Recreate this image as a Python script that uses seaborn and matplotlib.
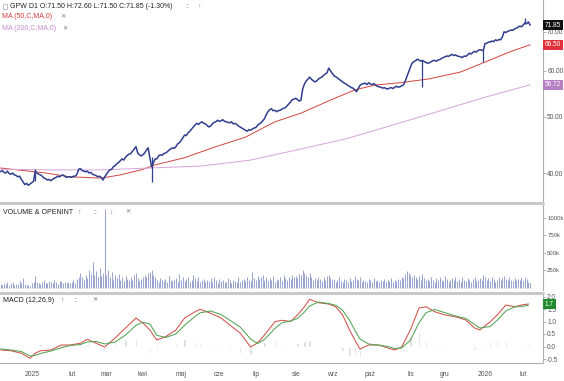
import numpy as np
import pandas as pd
import matplotlib
matplotlib.use("Agg")
import matplotlib.pyplot as plt
import seaborn as sns
from matplotlib.ticker import FixedLocator, NullLocator, FuncFormatter
from matplotlib.lines import Line2D
from matplotlib.patches import Rectangle

# ---------------- data ----------------
start_date = "2024-12-06"
close = [
    40.2, 40.4, 40.1, 40.0, 40.3, 39.9, 39.8, 40.0, 39.7, 39.6,
    39.4, 39.5, 39.0, 38.6, 38.2, 38.4, 38.1, 38.3, 38.5, 38.7,
    40.3, 40.0, 39.8, 39.7, 39.5, 39.2, 39.1, 38.9, 39.0, 38.8,
    39.0, 39.2, 39.3, 39.5, 39.4, 39.6, 39.7, 39.5, 39.3, 39.4,
    39.4, 39.3, 39.5, 39.5, 39.8, 40.6, 40.7, 40.4, 40.3, 40.2,
    40.3, 40.0, 40.1, 39.8, 39.7, 39.6, 39.4, 39.5, 39.3, 38.9,
    39.4, 39.8, 40.2, 40.5, 40.6, 41.0, 41.2, 41.5, 41.7, 42.0,
    42.3, 42.1, 42.6, 42.9, 43.1, 43.2, 43.6, 44.0, 44.4, 43.3,
    43.0, 42.8, 43.0, 43.3, 43.8, 44.2, 42.5, 41.0, 41.6, 42.3,
    42.3, 42.8, 43.0, 42.9, 43.2, 43.3, 43.5, 43.8, 44.0, 44.2,
    44.1, 44.4, 44.9, 45.1, 45.5, 46.0, 46.5, 46.4, 46.9, 47.2,
    47.6, 48.0, 48.4, 48.7, 48.5, 48.8, 49.0, 48.7, 48.6, 48.3,
    48.0, 48.2, 48.6, 48.9, 49.0, 49.3, 49.1, 49.2, 49.4, 49.1,
    49.0, 48.9, 48.8, 49.0, 48.6, 48.7, 48.5, 48.2, 48.0, 47.8,
    47.6, 47.4, 47.2, 47.5, 47.4, 47.6, 47.8, 47.9, 48.3, 48.6,
    48.8, 49.2, 49.6, 50.4, 51.0, 51.4, 51.6, 51.2, 51.3, 51.0,
    51.2, 51.3, 51.5, 51.7, 51.8, 52.2, 52.6, 53.0, 53.5, 53.6,
    53.8, 53.5, 53.2, 53.4, 55.8, 56.9, 57.6, 58.0, 58.5, 58.0,
    57.7, 57.4, 57.6, 58.0, 58.3, 58.5, 58.9, 59.2, 59.5, 60.6,
    60.0, 59.4, 58.8, 58.6, 58.3, 58.0, 57.7, 57.4, 57.1, 56.9,
    56.6, 56.4, 56.1, 56.0, 55.6, 55.2, 55.9, 56.6, 56.9, 57.0,
    57.1, 56.8, 57.2, 56.9, 56.8, 57.0, 56.7, 56.4, 56.3, 56.2,
    56.0, 56.1, 55.9, 55.8, 56.0, 56.1, 55.9, 56.2, 56.4, 56.2,
    56.3, 56.5, 56.7, 57.5, 58.6, 59.7, 60.8, 61.8, 62.2, 62.4,
    62.8, 62.6, 62.3, 62.5, 62.2, 62.0, 61.8, 61.9, 62.2, 62.4,
    62.5, 62.3, 62.6, 62.7, 63.0, 63.2, 63.4, 63.6, 63.5, 63.8,
    64.0, 63.7, 63.9, 63.6, 63.5, 63.4, 63.2, 63.6, 63.5, 63.9,
    64.3, 64.1, 64.5, 64.8, 64.6, 65.0, 65.2, 65.1, 65.0, 66.8,
    66.9, 67.2, 67.2, 67.5, 67.3, 67.8, 67.6, 67.9, 67.8, 68.6,
    70.0, 69.8, 70.1, 70.3, 70.5, 70.4, 70.8, 71.0, 71.3, 71.6,
    71.4, 71.9, 72.5, 72.3, 72.8, 71.85,
]
wick_idx = [20, 87, 243, 278, 302]
wick_low = [38.8, 38.6, 56.2, 62.0, 72.3]
wick_high = [40.6, 42.6, 62.6, 65.2, 73.8]

volume_k = [
    60, 45, 70, 55, 90, 50, 65, 80, 40, 60,
    55, 100, 70, 140, 60, 45, 50, 35, 75, 85,
    165, 90, 70, 60, 85, 110, 75, 65, 95, 80,
    70, 120, 85, 60, 95, 105, 70, 80, 65, 90,
    75, 85, 110, 70, 130, 160, 210, 150, 120, 180,
    140, 260, 200, 375, 180, 240, 150, 280, 170, 210,
    1130, 190, 260, 150, 230, 120, 180, 140, 200, 110,
    150, 95, 170, 130, 110, 160, 120, 190, 210, 140,
    100, 130, 150, 180, 160, 210, 235, 260, 180, 150,
    120, 90, 140, 110, 100, 130, 80, 170, 120, 95,
    110, 140, 90, 200, 120, 160, 100, 130, 150, 90,
    120, 180, 140, 100, 150, 90, 110, 130, 80, 120,
    100, 140, 90, 160, 110, 70, 130, 95, 120, 80,
    90, 140, 110, 75, 120, 100, 85, 150, 90, 110,
    130, 95, 160, 120, 100, 230, 140, 110, 170, 130,
    150, 190, 120, 160, 100, 140, 110, 170, 90, 130,
    120, 150, 100, 180, 140, 110, 160, 130, 190, 150,
    170, 140, 200, 180, 250, 220, 190, 160, 210, 150,
    120, 140, 110, 160, 130, 100, 150, 120, 170, 190,
    140, 110, 130, 90, 120, 150, 100, 80, 130, 110,
    90, 140, 100, 120, 170, 130, 110, 150, 90, 120,
    100, 80, 130, 110, 90, 140, 100, 120, 85, 110,
    95, 130, 80, 110, 100, 140, 90, 120, 100, 130,
    110, 150, 140, 200, 240, 210, 180, 160, 190, 150,
    130, 170, 120, 200, 140, 110, 130, 100, 150, 120,
    90, 140, 110, 160, 120, 100, 170, 130, 90, 120,
    140, 110, 160, 100, 130, 90, 150, 120, 100, 140,
    110, 90, 130, 160, 100, 120, 140, 110, 180, 150,
    120, 140, 100, 160, 130, 90, 120, 150, 110, 140,
    170, 130, 110, 150, 120, 100, 140, 120, 130, 110,
    150, 100, 160, 130, 90, 70,
]

ma50_idx = [0, 26, 40, 58, 69, 81, 89, 106, 124, 141, 158, 173, 190, 204, 216, 230, 247, 265, 282, 293, 305]
ma50 = [40.8, 40.0, 39.4, 39.2, 39.7, 40.5, 41.3, 42.5, 44.4, 46.1, 49.0, 50.7, 53.4, 55.6, 56.7, 57.2, 58.1, 59.7, 62.6, 64.6, 66.5]
ma200_idx = [0, 29, 58, 86, 115, 144, 158, 173, 199, 219, 242, 259, 277, 305]
ma200 = [40.6, 40.5, 40.5, 40.8, 41.1, 42.1, 43.0, 44.0, 45.8, 47.7, 50.0, 51.8, 53.8, 56.72]

macd_idx = [0, 6, 12, 17, 20, 23, 29, 35, 40, 46, 50, 55, 60, 66, 72, 78, 82, 86, 90, 95,
            101, 106, 112, 115, 121, 127, 132, 138, 144, 148, 152, 158, 162, 167, 171, 175, 178, 183, 189, 193,
            197, 201, 204, 207, 212, 218, 223, 227, 231, 236, 241, 245, 250, 256, 262, 268, 273, 276, 282, 286,
            291, 296, 300, 304]
macd = [-0.14, -0.17, -0.27, -0.47, -0.27, -0.17, -0.14, 0.06, 0.06, 0.13,
        0.29, 0.13, -0.02, 0.34, 0.74, 1.14, 0.94, 0.66, 0.26, 0.39,
        0.66, 1.14, 1.39, 1.49, 1.33, 1.14, 0.86, 0.54, -0.02, 0.14,
        0.46, 0.99, 1.05, 1.00, 1.26, 1.59, 1.89, 1.75, 1.70, 1.59,
        1.26, 0.66, 0.26, -0.10, 0.06, 0.06, -0.06, -0.14, -0.02, 0.66,
        1.54, 1.59, 1.39, 1.26, 1.19, 1.06, 0.74, 0.66, 0.99, 1.26,
        1.66, 1.59, 1.66, 1.70]
signal = [-0.10, -0.14, -0.20, -0.38, -0.35, -0.28, -0.18, -0.05, 0.04, 0.08,
          0.18, 0.20, 0.10, 0.18, 0.46, 0.85, 0.97, 0.90, 0.45, 0.36,
          0.50, 0.85, 1.20, 1.35, 1.42, 1.28, 1.05, 0.78, 0.30, 0.12,
          0.28, 0.72, 0.95, 1.02, 1.12, 1.38, 1.62, 1.78, 1.72, 1.65,
          1.45, 1.05, 0.65, 0.30, 0.10, 0.05, 0.00, -0.08, -0.06, 0.25,
          0.95, 1.35, 1.48, 1.35, 1.22, 1.12, 0.88, 0.74, 0.80, 1.05,
          1.42, 1.58, 1.60, 1.65]

month_names = ["gru", "2025", "lut", "mar", "kwi", "maj", "cze", "lip", "sie",
               "wrz", "paź", "lis", "gru", "2026", "lut"]
price_ticks = [40, 50, 60, 70]
volume_ticks = [250, 500, 750, 1000]
macd_ticks = [-0.5, 0.0, 0.5, 1.0, 1.5, 2.0]

header = "GPW D1 O:71.50 H:72.60 L:71.50 C:71.85 (-1.30%)"
ma50_name = "MA (50,C,MA,0)"
ma200_name = "MA (200,C,MA,0)"
vol_name = "VOLUME & OPENINT"
macd_name = "MACD (12,26,9)"
last_close_label, ma50_label, ma200_label, macd_label = "71.85", "66.50", "56.72", "1.7"

# ---------------- style ----------------
sns.set_theme(style="white")
plt.rcParams["font.family"] = ["Liberation Sans", "DejaVu Sans"]

W, H = 564, 381
fig = plt.figure(figsize=(W / 100, H / 100), dpi=100)
fig.patch.set_facecolor("white")


def px_axes(x0, y0, x1, y1):
    return fig.add_axes([x0 / W, 1 - y1 / H, (x1 - x0) / W, (y1 - y0) / H])


PRICE_C = "#2f3e8e"
MA50_C = "#d2443f"
MA200_C = "#d7a3da"
VOL_C = "#97a4cf"
MACD_C = "#d2524c"
SIG_C = "#52a552"
HIST_C = "#dadada"
TICK_C = "#555555"
XLIM = (-0.3, 312.4)
TICK_FS = 4.7

idx = np.arange(len(close))
dates = pd.bdate_range(start_date, periods=len(close))
full = pd.bdate_range("2024-12-02", dates[-1])
offset = full.get_loc(pd.Timestamp(start_date))
per = pd.Series(full.to_period("M"))
month_pos = np.where(~per.duplicated().values)[0] - offset


def style_axis(ax, spine_bottom=False, fs=TICK_FS):
    for s in ["left", "top"]:
        ax.spines[s].set_visible(False)
    ax.spines["bottom"].set_visible(spine_bottom)
    ax.spines["right"].set_color("#b0b0b0")
    ax.spines["right"].set_linewidth(0.8)
    ax.yaxis.tick_right()
    ax.tick_params(axis="y", which="both", direction="out", length=2.2, width=0.5,
                   colors="#999999", labelcolor=TICK_C, labelsize=fs, pad=0.8)
    ax.set_xlim(*XLIM)
    ax.set_facecolor("white")
    ax.set_xlabel("")
    ax.set_ylabel("")


# ---------------- main price panel ----------------
ax = px_axes(0, 0, 543, 201)
sns.lineplot(x=idx, y=close, ax=ax, color=PRICE_C, lw=1.1, estimator=None, zorder=4)
ax.vlines(wick_idx, wick_low, wick_high, color=PRICE_C, lw=0.9, zorder=4)
sns.lineplot(x=ma50_idx, y=ma50, ax=ax, color=MA50_C, lw=0.7, estimator=None, zorder=3)
sns.lineplot(x=ma200_idx, y=ma200, ax=ax, color=MA200_C, lw=0.7, estimator=None, zorder=3)
ax.set_yscale("log")
ax.set_ylim(35.8, 79.4)
style_axis(ax)
ax.yaxis.set_major_locator(FixedLocator(price_ticks))
ax.yaxis.set_minor_locator(NullLocator())
ax.yaxis.set_major_formatter(FuncFormatter(lambda v, p: f"{v:.2f}"))
ax.set_xticks([])

tr = ax.get_yaxis_transform()
for val, txt, fc in [(71.85, last_close_label, "#111111"), (66.5, ma50_label, "#e0303a"),
                     (56.72, ma200_label, "#b57fc2")]:
    ax.text(1.003, val, txt, transform=tr, ha="left", va="center", fontsize=TICK_FS, color="white",
            bbox=dict(boxstyle="square,pad=0.25", fc=fc, ec="none"), zorder=10, clip_on=False)

# ---------------- volume panel ----------------
axv = px_axes(0, 204, 543, 290)
axv.vlines(idx, 0, volume_k, color=VOL_C, lw=0.7)
axv.set_ylim(-28, 1196)
style_axis(axv, fs=4.3)
axv.yaxis.set_major_locator(FixedLocator(volume_ticks))
axv.yaxis.set_major_formatter(FuncFormatter(lambda v, p: f"{int(v)}k"))
axv.set_xticks([])

# ---------------- MACD panel ----------------
axm = px_axes(0, 295, 543, 363)
hist = np.array(macd) - np.array(signal)
axm.bar(macd_idx, hist, width=1.4, color=HIST_C, zorder=1)
sns.lineplot(x=macd_idx, y=macd, ax=axm, color=MACD_C, lw=0.75, estimator=None, zorder=3)
sns.lineplot(x=macd_idx, y=signal, ax=axm, color=SIG_C, lw=0.75, estimator=None, zorder=3)
axm.set_ylim(-0.66, 2.06)
style_axis(axm, spine_bottom=True)
axm.spines["bottom"].set_color("#b0b0b0")
axm.spines["bottom"].set_linewidth(0.8)
axm.yaxis.set_major_locator(FixedLocator(macd_ticks))
axm.yaxis.set_major_formatter(FuncFormatter(lambda v, p: f"{v:.1f}"))
in_range = [p for p in month_pos if XLIM[0] <= p <= XLIM[1]]
axm.set_xticks(in_range)
axm.set_xticklabels([])
axm.tick_params(axis="x", direction="out", length=2.5, width=0.5, colors="#999999")
xtr = axm.get_xaxis_transform()
for p, name in zip(month_pos, month_names):
    axm.text(p, -0.12, name, transform=xtr, ha="center", va="top", fontsize=TICK_FS + 0.2,
             color=TICK_C, clip_on=False)
axm.text(1.003, 1.7, macd_label, transform=axm.get_yaxis_transform(), ha="left", va="center",
         fontsize=TICK_FS, color="white", bbox=dict(boxstyle="square,pad=0.3", fc="#1f8a2e", ec="none"),
         zorder=10, clip_on=False)

# ---------------- separators and headers ----------------
for ysep in [202.5, 292.5]:
    fig.add_artist(Line2D([0, 543 / W], [1 - ysep / H] * 2, color="#c8c8c8", lw=2.2))


def ftxt(x, y, s, color="#222222", size=5, **kw):
    fig.text(x / W, 1 - y / H, s, color=color, fontsize=size, va="center", ha="left", **kw)


fig.add_artist(Rectangle((2.5 / W, 1 - 8.5 / H), 4 / W, 4 / H, fill=False, ec="#aaaaaa", lw=0.5))
ftxt(10, 6, header)
ftxt(185, 6, "::", color="#888888")
ftxt(197, 6, "↑", color="#888888")
ftxt(2, 16.5, ma50_name, color="#d23c3c")
ftxt(60, 16.5, "✕", color="#777777", size=4.5)
ftxt(2, 29, ma200_name, color="#c88ad0")
ftxt(62, 29, "✕", color="#777777", size=4.5)

ftxt(3, 212, vol_name, color="#222222")
ftxt(77, 212, "↑", color="#777777")
ftxt(93, 212, "::", color="#777777")
ftxt(109, 212, "↓", color="#777777")
ftxt(125, 212, "✕", color="#777777", size=4.5)

ftxt(3, 300, macd_name, color="#222222")
ftxt(60, 300, "↑", color="#777777")
ftxt(73, 300, "::", color="#777777")
ftxt(92, 300, "✕", color="#777777", size=4.5)

fig.savefig("out.png", dpi=100, facecolor="white")
